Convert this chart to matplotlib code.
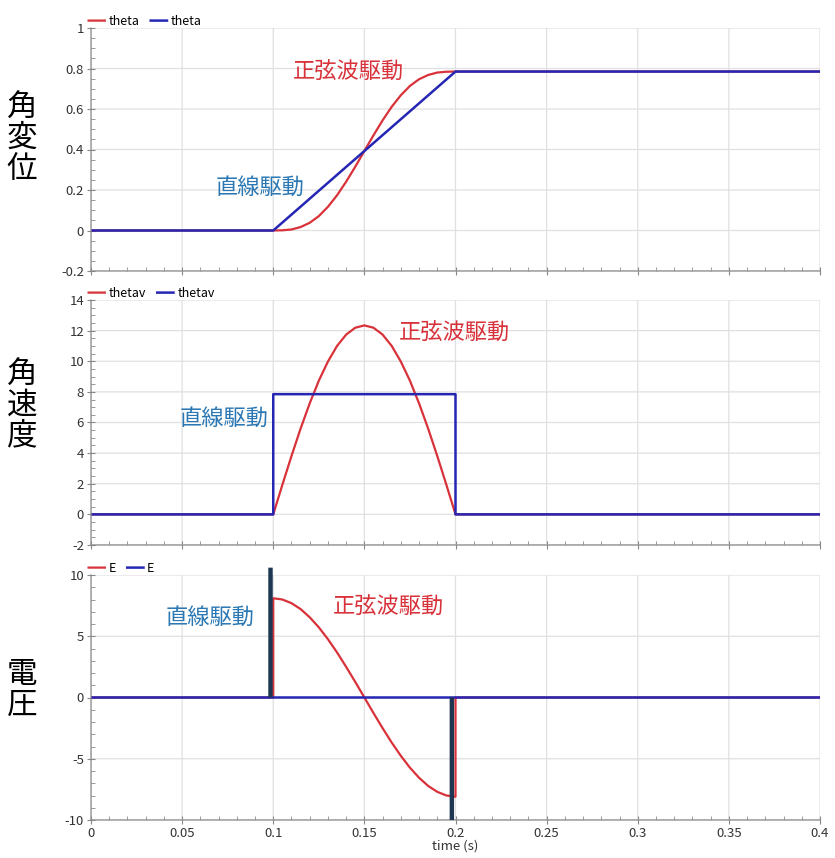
import matplotlib
matplotlib.use("Agg")
import matplotlib.pyplot as plt
from matplotlib.ticker import MultipleLocator

plt.rcParams['font.family'] = ['Noto Sans CJK JP', 'DejaVu Sans']
plt.rcParams['axes.unicode_minus'] = False
plt.rcParams['path.snap'] = False

# ---------------- data ----------------
# sine drive, sampled every 0.005 s between 0.1 and 0.2
t_sine = [0.100, 0.105, 0.110, 0.115, 0.120, 0.125, 0.130, 0.135, 0.140, 0.145,
          0.150, 0.155, 0.160, 0.165, 0.170, 0.175, 0.180, 0.185, 0.190, 0.195, 0.200]
theta_sine = [0.000, 0.001, 0.005, 0.017, 0.038, 0.071, 0.117, 0.174, 0.241, 0.315,
              0.393, 0.470, 0.544, 0.611, 0.668, 0.714, 0.747, 0.768, 0.780, 0.784, 0.785]
thetav_sine = [0.00, 1.93, 3.81, 5.60, 7.25, 8.73, 9.98, 11.00, 11.74, 12.19,
               12.34, 12.19, 11.74, 11.00, 9.98, 8.73, 7.25, 5.60, 3.81, 1.93, 0.00]
E_sine = [8.10, 8.00, 7.70, 7.22, 6.55, 5.73, 4.76, 3.68, 2.50, 1.27,
          0.00, -1.27, -2.50, -3.68, -4.76, -5.73, -6.55, -7.22, -7.70, -8.00, -8.10]

# full-range sine-drive series (flat parts before / after the move)
t_red = [0.0] + t_sine + [0.4]
theta_red = [0.0] + theta_sine + [0.785]
thetav_red = [0.0] + thetav_sine + [0.0]
t_red_E = [0.0, 0.1] + t_sine + [0.2, 0.4]
E_red = [0.0, 0.0] + E_sine + [0.0, 0.0]

# linear drive
t_lin = [0.0, 0.1, 0.2, 0.4]
theta_lin = [0.0, 0.0, 0.785, 0.785]
t_lin_v = [0.0, 0.1, 0.1, 0.2, 0.2, 0.4]
thetav_lin = [0.0, 0.0, 7.85, 7.85, 0.0, 0.0]
t_lin_E = [0.0, 0.4]
E_lin = [0.0, 0.0]
spike_t = [0.0985, 0.198]
spike_E = [10.6, -10.0]

xticks = [0, 0.05, 0.1, 0.15, 0.2, 0.25, 0.3, 0.35, 0.4]
xticklabels = ['0', '0.05', '0.1', '0.15', '0.2', '0.25', '0.3', '0.35', '0.4']

RED = '#d9323a'
BLUE = '#2626b4'
SPIKE = '#1e3652'
TRED = '#d8313a'
TBLUE = '#2b78b4'
GRID = '#e0e0e0'
AXC = '#888888'

W, H = 835, 858
fig = plt.figure(figsize=(W / 100, H / 100), dpi=100)

def axes_px(top, bottom):
    left, right = 91, 820
    return fig.add_axes([left / W, 1 - bottom / H, (right - left) / W, (bottom - top) / H])

ax1 = axes_px(28, 271)
ax2 = axes_px(300, 545)
ax3 = axes_px(575, 820)

def style(ax, ylim, ymaj, ymin):
    ax.set_xlim(0, 0.4)
    ax.set_ylim(*ylim)
    ax.xaxis.set_major_locator(MultipleLocator(0.05))
    ax.xaxis.set_minor_locator(MultipleLocator(0.01))
    ax.yaxis.set_major_locator(MultipleLocator(ymaj))
    ax.yaxis.set_minor_locator(MultipleLocator(ymin))
    ax.grid(True, which='major', color=GRID, linewidth=0.9)
    ax.set_axisbelow(True)
    for s in ['top', 'right']:
        ax.spines[s].set_visible(False)
    for s in ['left', 'bottom']:
        ax.spines[s].set_color(AXC)
        ax.spines[s].set_linewidth(0.9)
    ax.tick_params(which='major', direction='inout', length=6, color=AXC,
                   labelsize=9.5, labelcolor='#333333', pad=2)
    ax.tick_params(which='minor', direction='in', length=3, color=AXC)
    ax.set_xticks(xticks)
    ax.set_xticklabels(xticklabels)

style(ax1, (-0.2, 1.0), 0.2, 0.05)
style(ax2, (-2, 14), 2, 0.5)
style(ax3, (-10, 10), 5, 1)
ax1.set_yticks([-0.2, 0, 0.2, 0.4, 0.6, 0.8, 1.0])
ax1.set_yticklabels(['-0.2', '0', '0.2', '0.4', '0.6', '0.8', '1'])
ax1.tick_params(axis='x', labelbottom=False)
ax2.tick_params(axis='x', labelbottom=False)

# panel 1
ax1.plot(t_red, theta_red, color=RED, lw=1.6, label='theta')
ax1.plot(t_lin, theta_lin, color=BLUE, lw=1.8, label='theta')
# panel 2
ax2.plot(t_red, thetav_red, color=RED, lw=1.6, label='thetav')
ax2.plot(t_lin_v, thetav_lin, color=BLUE, lw=1.8, label='thetav')
# panel 3
ax3.plot(t_red_E, E_red, color=RED, lw=1.6, label='E')
ax3.plot(t_lin_E, E_lin, color=BLUE, lw=1.8, label='E')
for st, se in zip(spike_t, spike_E):
    ax3.vlines(st, 0, se, color=SPIKE, lw=3.2, clip_on=False, zorder=4)

for ax in (ax1, ax2, ax3):
    ax.legend(loc='lower left', bbox_to_anchor=(-0.005, 0.995), ncol=2, frameon=False,
              fontsize=9, handlelength=1.3, handletextpad=0.3, columnspacing=0.9,
              borderaxespad=0.0, borderpad=0.1)

ax3.set_xlabel('time (s)', fontsize=9.5, color='#333333', labelpad=0)

# annotations
def ftext(x, y, s, **kw):
    fig.text(x / W, 1 - y / H, s, **kw)

ftext(348, 72, '正弦波駆動', color=TRED, fontsize=16, ha='center', va='center')
ftext(260, 187, '直線駆動', color=TBLUE, fontsize=16, ha='center', va='center')
ftext(454, 333, '正弦波駆動', color=TRED, fontsize=16, ha='center', va='center')
ftext(224, 418, '直線駆動', color=TBLUE, fontsize=16, ha='center', va='center')
ftext(210, 617, '直線駆動', color=TBLUE, fontsize=16, ha='center', va='center')
ftext(388, 607, '正弦波駆動', color=TRED, fontsize=16, ha='center', va='center')

# y labels (stacked vertical characters)
ftext(22, 138, '角\n変\n位', color='black', fontsize=22, ha='center', va='center', linespacing=1.0)
ftext(22, 405, '角\n速\n度', color='black', fontsize=22, ha='center', va='center', linespacing=1.0)
ftext(22, 690, '電\n圧', color='black', fontsize=22, ha='center', va='center', linespacing=1.0)

fig.savefig('out.png', dpi=100, facecolor='white')
